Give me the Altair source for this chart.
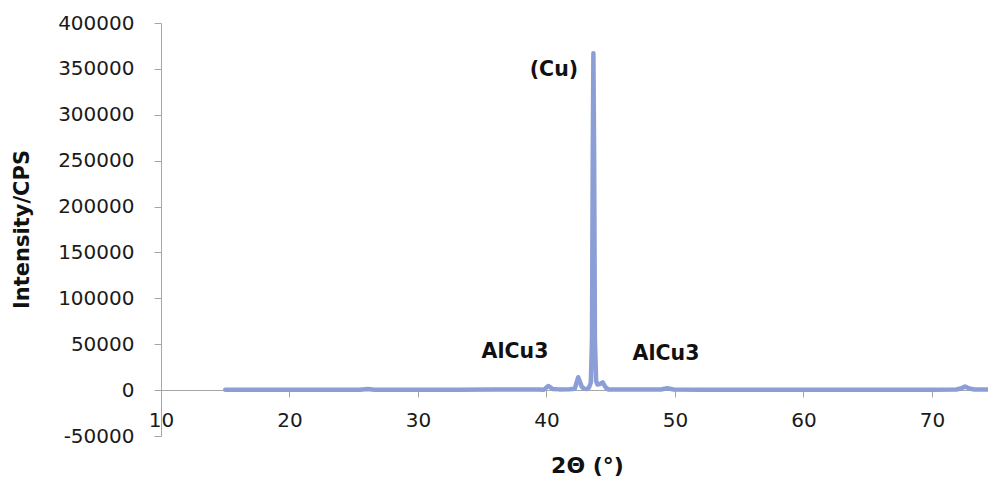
import altair as alt
import pandas as pd

# 2-theta positions (degrees) and intensities (CPS)
two_theta = [15.0, 17.0, 20.0, 23.0, 25.5, 26.1, 26.6, 30.0, 33.0, 36.0, 38.0, 39.4, 39.8,
             40.14, 40.5, 41.0, 41.8, 42.2, 42.47, 42.75, 42.95, 43.15, 43.3, 43.45, 43.54,
             43.6, 43.65, 43.71, 43.77, 43.86, 43.97, 44.15, 44.37, 44.6, 44.8, 45.5, 47.0,
             48.9, 49.4, 49.9, 52.0, 56.0, 60.0, 65.0, 70.0, 71.9, 72.3, 72.57, 72.9, 73.3, 75.0]
intensity = [400, 500, 450, 500, 500, 1200, 500, 450, 500, 550, 600, 700, 500,
             4500, 1200, 800, 900, 1500, 14000, 3500, 1400, 1300, 2500, 8000, 55000,
             250000, 367000, 250000, 55000, 10000, 6000, 6500, 8500, 3000, 800, 600, 550,
             600, 2000, 600, 500, 450, 500, 450, 500, 700, 2000, 4000, 1800, 600, 500]

ann_x = [40.58, 37.55, 49.3]
ann_y = [348600, 41400, 39200]
ann_text = ["(Cu)", "AlCu3", "AlCu3"]

df = pd.DataFrame({"x": two_theta, "y": intensity})
ann = pd.DataFrame({"x": ann_x, "y": ann_y, "t": ann_text})

FONT = "DejaVu Sans"
x_scale = alt.Scale(domain=[10, 74.36], nice=False, zero=False)
y_scale = alt.Scale(domain=[-50000, 400000], nice=False, zero=False)

line = alt.Chart(df).mark_line(color="#8C9ED6", strokeWidth=4.5, clip=True,
                               strokeCap="round", strokeJoin="round").encode(
    x=alt.X("x:Q", scale=x_scale,
            axis=alt.Axis(title="2Θ (°)", values=[10, 20, 30, 40, 50, 60, 70],
                          offset=-46, grid=False, domainColor="#A6A6A6", tickColor="#A6A6A6",
                          tickSize=7, labelPadding=13, labelFont=FONT, labelFontSize=20,
                          labelColor="#1a1a1a", titleFont=FONT, titleFontSize=22,
                          titleFontWeight="bold", titleColor="#111111",
                          labelExpr="datum.value + ''", labelFlush=False,
                          titleX=426, titleY=75, titleBaseline="middle", titleAlign="center")),
    y=alt.Y("y:Q", scale=y_scale,
            axis=alt.Axis(title="Intensity/CPS", values=list(range(-50000, 400001, 50000)),
                          grid=False, domainColor="#A6A6A6", tickColor="#A6A6A6",
                          tickSize=7, labelPadding=20, labelFont=FONT, labelFontSize=20,
                          labelColor="#1a1a1a", titleFont=FONT, titleFontSize=21,
                          titleFontWeight="bold", titleColor="#111111",
                          labelExpr="datum.value + ''",
                          titleX=-139, titleY=206, titleBaseline="middle", titleAlign="center")),
)

labels = alt.Chart(ann).mark_text(font=FONT, fontSize=20.5, fontWeight="bold",
                                  color="#111111").encode(
    x=alt.X("x:Q", scale=x_scale),
    y=alt.Y("y:Q", scale=y_scale),
    text="t:N",
)

chart = alt.layer(line, labels).properties(
    width=827, height=413, autosize="none",
    padding={"left": 161, "top": 23, "right": 0, "bottom": 45},
).configure_view(stroke=None)

chart.save("out.html", embed_options={"renderer": "svg", "actions": False})
